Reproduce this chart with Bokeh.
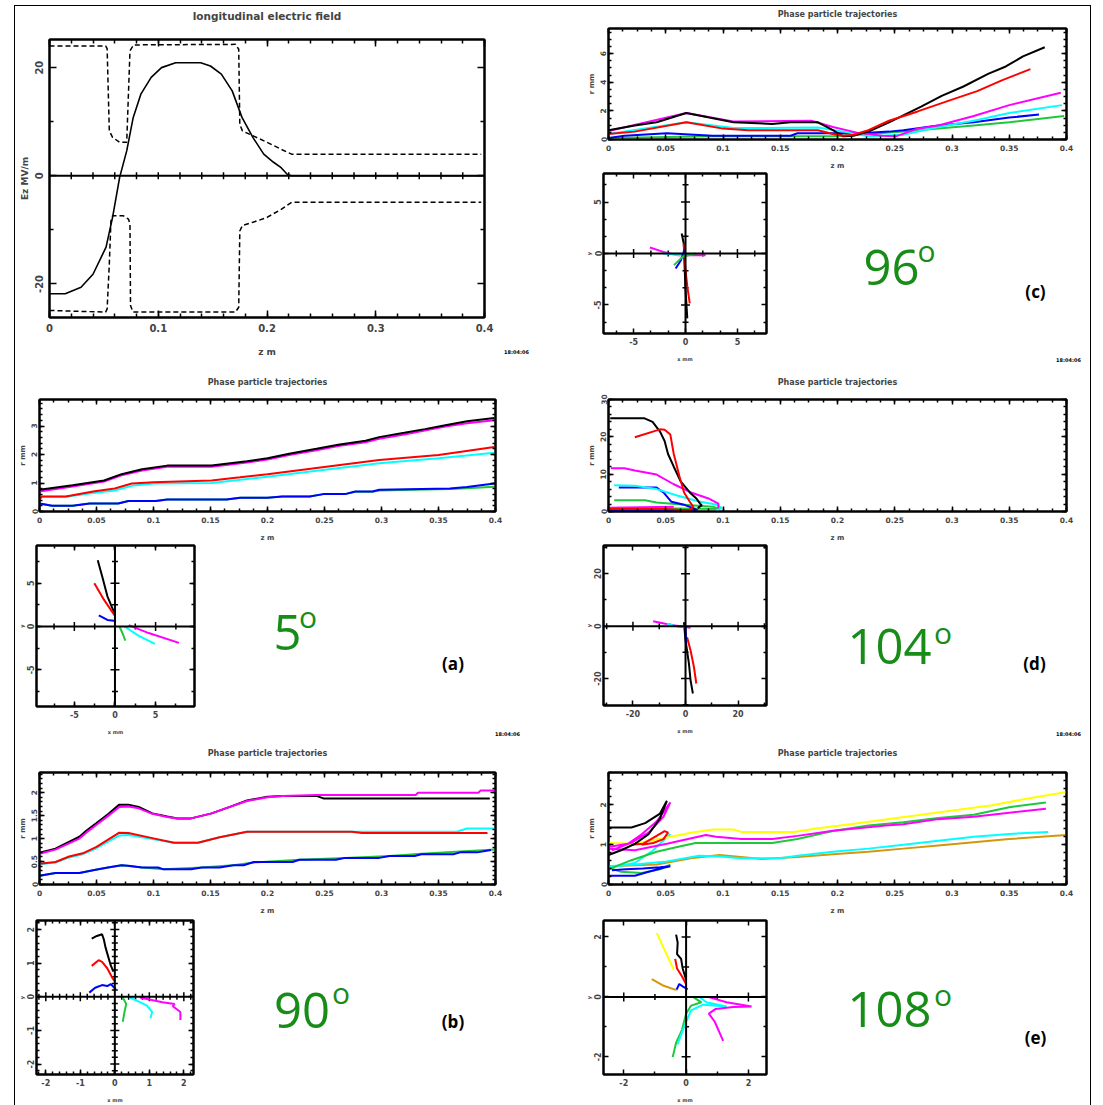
import math
from bokeh.plotting import figure
from bokeh.models import (Range1d, LinearAxis, FixedTicker, CustomJSTickFormatter,
                          Label, Span, Spacer)
from bokeh.layouts import column, row
from bokeh.embed import file_html
from bokeh.resources import INLINE

# ---------------- data ----------------
# longitudinal electric field
ez_z = [0, 0.0145, 0.029, 0.040, 0.052, 0.058, 0.0645, 0.071, 0.077, 0.084, 0.0935, 0.103, 0.116,
        0.139, 0.148, 0.158, 0.168, 0.177, 0.187, 0.197, 0.206, 0.213, 0.219, 0.2226, 0.398]
ez_v = [-21.8, -21.8, -20.6, -18.2, -13.2, -7.7, -0.3, 4.6, 10.8, 15.1, 18.2, 20.0, 20.9,
        20.9, 20.3, 18.8, 15.7, 10.8, 7.1, 4.0, 2.5, 1.5, 0.2, 0.0, 0.0]
env_up_z = [0, 0.0516, 0.053, 0.055, 0.058, 0.0645, 0.071, 0.074, 0.0774, 0.171, 0.174, 0.175,
            0.1774, 0.187, 0.200, 0.213, 0.2226, 0.397]
env_up_v = [24.0, 24.0, 23.5, 8.3, 7.1, 6.2, 6.2, 23.1, 24.2, 24.3, 23.4, 9.5,
            8.3, 7.4, 6.2, 4.9, 4.0, 4.0]
env_lo_z = [0, 0.0516, 0.053, 0.055, 0.0565, 0.058, 0.068, 0.0726, 0.074, 0.0745, 0.0768, 0.171,
            0.174, 0.175, 0.1774, 0.187, 0.200, 0.213, 0.2226, 0.397]
env_lo_v = [-24.9, -25.2, -24.6, -16.3, -8.3, -7.4, -7.4, -8.0, -8.9, -24.0, -25.2, -25.2,
            -24.3, -10.2, -9.2, -8.6, -7.7, -6.2, -4.9, -4.9]

# (c) 96 deg
c_black_z = [0, 0.023, 0.042, 0.068, 0.088, 0.109, 0.143, 0.159, 0.183, 0.196, 0.205, 0.214, 0.227,
             0.245, 0.273, 0.291, 0.31, 0.3315, 0.347, 0.362, 0.381]
c_black_r = [0.65, 0.98, 1.2, 1.85, 1.53, 1.2, 1.09, 1.2, 1.2, 0.65, 0.22, 0.26, 0.55,
             1.2, 2.3, 3.05, 3.7, 4.58, 5.1, 5.8, 6.44]
c_red_z = [0, 0.023, 0.068, 0.1, 0.122, 0.183, 0.196, 0.205, 0.214, 0.227, 0.245, 0.27, 0.298,
           0.322, 0.344, 0.3685]
c_red_r = [0.39, 0.55, 1.2, 0.76, 0.65, 0.65, 0.39, 0.26, 0.33, 0.65, 1.31, 1.96, 2.73,
           3.38, 4.15, 4.91]
c_mag_z = [0, 0.068, 0.109, 0.177, 0.196, 0.217, 0.239, 0.251, 0.27, 0.288, 0.319, 0.35, 0.395]
c_mag_r = [0.6, 1.85, 1.25, 1.31, 0.87, 0.48, 0.26, 0.22, 0.76, 0.98, 1.64, 2.4, 3.27]
c_cyan_z = [0, 0.068, 0.109, 0.183, 0.205, 0.227, 0.2575, 0.288, 0.319, 0.35, 0.396]
c_cyan_r = [0.39, 1.2, 0.8, 0.83, 0.55, 0.22, 0.33, 0.87, 1.31, 1.85, 2.4]
c_blue_z = [0, 0.014, 0.051, 0.091, 0.159, 0.165, 0.22, 0.245, 0.2575, 0.288, 0.319, 0.35, 0.376]
c_blue_r = [0.11, 0.26, 0.44, 0.26, 0.26, 0.44, 0.44, 0.55, 0.65, 0.98, 1.2, 1.53, 1.75]
c_green_z = [0, 0.091, 0.196, 0.227, 0.2575, 0.288, 0.319, 0.35, 0.398]
c_green_r = [0.11, 0.22, 0.22, 0.39, 0.55, 0.76, 0.98, 1.2, 1.64]
cs_black_x = [-0.37, -0.17, -0.1, 0.0, 0.17]
cs_black_y = [1.94, 0.97, -0.97, -3.5, -6.3]
cs_red_x = [-0.17, -0.03, 0.17, 0.41]
cs_red_y = [0.97, -1.29, -3.2, -4.84]
cs_mag_x = [-3.43, -2.14, -0.78, 1.94]
cs_mag_y = [0.58, 0.16, -0.16, -0.16]
cs_cyan_x = [-2.14, -0.44, 0.92]
cs_cyan_y = [0.0, -0.16, -0.06]
cs_blue_x = [-0.95, -0.44, -0.1]
cs_blue_y = [-1.45, -0.65, 0.39]
cs_green_x = [-1.12, -0.27, 0.92]
cs_green_y = [-1.13, -0.32, 0.0]

# (a) 5 deg
a_black_z = [0, 0.029, 0.0566, 0.072, 0.09, 0.112, 0.151, 0.182, 0.2, 0.219, 0.243, 0.262, 0.286,
             0.298, 0.32, 0.338, 0.356, 0.375, 0.399]
a_black_r = [0.76, 0.92, 1.09, 1.31, 1.48, 1.61, 1.61, 1.76, 1.87, 2.03, 2.2, 2.34, 2.48,
             2.61, 2.76, 2.89, 3.03, 3.17, 3.28]
a_mag_z = [0, 0.029, 0.0566, 0.072, 0.09, 0.112, 0.151, 0.182, 0.2, 0.219, 0.243, 0.262, 0.286,
           0.298, 0.32, 0.338, 0.356, 0.375, 0.399]
a_mag_r = [0.70, 0.88, 1.05, 1.27, 1.44, 1.57, 1.57, 1.72, 1.82, 1.98, 2.15, 2.30, 2.43,
           2.55, 2.70, 2.84, 2.98, 3.10, 3.20]
a_red_z = [0, 0.002, 0.023, 0.047, 0.066, 0.081, 0.1, 0.151, 0.176, 0.2, 0.243, 0.298, 0.35, 0.399]
a_red_r = [0.42, 0.53, 0.53, 0.7, 0.81, 0.98, 1.03, 1.09, 1.2, 1.31, 1.53, 1.81, 1.98, 2.26]
a_cyan_z = [0, 0.002, 0.023, 0.047, 0.066, 0.081, 0.1, 0.151, 0.2, 0.243, 0.298, 0.35, 0.399]
a_cyan_r = [0.42, 0.52, 0.52, 0.65, 0.74, 0.9, 0.98, 1.0, 1.22, 1.43, 1.69, 1.87, 2.06]
a_blue_z = [0, 0.011, 0.029, 0.044, 0.069, 0.078, 0.102, 0.112, 0.164, 0.176, 0.2, 0.213, 0.237,
            0.249, 0.268, 0.277, 0.292, 0.298, 0.36, 0.375, 0.399]
a_blue_r = [0.28, 0.2, 0.2, 0.28, 0.28, 0.37, 0.37, 0.42, 0.42, 0.48, 0.48, 0.53, 0.53,
            0.61, 0.61, 0.7, 0.7, 0.76, 0.81, 0.86, 0.98]
a_green_z = [0, 0.011, 0.029, 0.044, 0.069, 0.078, 0.102, 0.112, 0.164, 0.176, 0.2, 0.213, 0.237,
             0.249, 0.268, 0.277, 0.292, 0.298, 0.36, 0.375, 0.399]
a_green_r = [0.28, 0.2, 0.2, 0.28, 0.28, 0.37, 0.37, 0.42, 0.42, 0.48, 0.48, 0.53, 0.53,
             0.61, 0.61, 0.69, 0.69, 0.74, 0.79, 0.82, 0.87]
as_black_x = [-2.12, -1.57, -0.93, 0.0]
as_black_y = [7.65, 5.76, 3.48, 1.4]
as_red_x = [-2.54, -1.36, 0.0]
as_red_y = [5.0, 3.1, 1.21]
as_blue_x = [-1.99, -0.93, 0.13]
as_blue_y = [1.29, 0.76, 0.64]
as_green_x = [0.55, 0.97, 1.27]
as_green_y = [0.0, -0.87, -1.63]
as_cyan_x = [1.19, 2.88, 4.92]
as_cyan_y = [0.0, -1.06, -2.0]
as_mag_x = [1.69, 4.15, 7.88]
as_mag_y = [0.15, -0.76, -1.89]

# (d) 104 deg
d_black_z = [0.0015, 0.031, 0.0385, 0.045, 0.049, 0.052, 0.057, 0.063, 0.071, 0.077, 0.080, 0.0815, 0.078]
d_black_r = [25.0, 25.0, 24.0, 21.4, 18.9, 15.4, 12.0, 8.1, 5.1, 3.4, 2.1, 1.7, 0.9]
d_red_z = [0.023, 0.045, 0.049, 0.054, 0.057, 0.062, 0.066, 0.071, 0.074, 0.069]
d_red_r = [19.9, 22.0, 21.9, 20.6, 15.4, 9.4, 5.1, 2.6, 1.3, 0.0]
d_mag_z = [0.002, 0.014, 0.023, 0.042, 0.057, 0.072, 0.088, 0.096, 0.096]
d_mag_r = [11.6, 11.6, 11.0, 9.9, 7.3, 5.1, 3.4, 2.1, 0.9]
d_cyan_z = [0.005, 0.023, 0.042, 0.060, 0.079, 0.094, 0.099, 0.094]
d_cyan_r = [7.0, 6.9, 6.0, 4.3, 2.7, 1.9, 0.9, 0.3]
d_blue_z = [0.009, 0.042, 0.048, 0.055, 0.065, 0.074, 0.078]
d_blue_r = [6.4, 6.4, 5.1, 2.6, 1.9, 0.9, 0.3]
d_green_z = [0.005, 0.032, 0.042, 0.072, 0.091, 0.097]
d_green_r = [3.0, 3.0, 2.4, 1.7, 1.3, 0.7]
d_low_red_z = [0.0, 0.051, 0.072]
d_low_red_r = [0.7, 0.7, 0.2]
d_low_mag_z = [0.0, 0.057]
d_low_mag_r = [1.0, 1.3]
d_low_blue_z = [0.0, 0.076]
d_low_blue_r = [0.35, 0.35]
d_low_green_z = [0.0, 0.042, 0.097]
d_low_green_r = [0.5, 0.85, 0.7]
ds_black_x = [-0.6, 0.0, 1.3, 1.9, 2.8]
ds_black_y = [1.5, -5.4, -14.3, -20.6, -25.7]
ds_red_x = [0.6, 1.9, 3.2, 4.1]
ds_red_y = [-4.2, -9.2, -15.6, -21.9]
ds_blue_x = [0.0, 0.26]
ds_blue_y = [0.0, -6.7]
ds_mag_x = [-12.3, -7.7, -3.9, 1.9]
ds_mag_y = [1.9, 0.9, 0.25, -0.6]
ds_cyan_x = [-7.1, -3.9, -1.3]
ds_cyan_y = [0.9, 0.1, -0.1]
ds_green_x = [-3.2, 0.0]
ds_green_y = [-0.1, -0.1]

# (b) 90 deg
b_black_z = [0, 0.014, 0.035, 0.041, 0.05, 0.06, 0.07, 0.078, 0.087, 0.099, 0.112, 0.121, 0.133,
             0.151, 0.167, 0.182, 0.2, 0.213, 0.243, 0.249, 0.395]
b_black_r = [0.69, 0.78, 1.04, 1.17, 1.34, 1.53, 1.74, 1.74, 1.69, 1.55, 1.48, 1.44, 1.44,
             1.55, 1.69, 1.83, 1.91, 1.93, 1.93, 1.875, 1.875]
b_mag_z = [0, 0.014, 0.035, 0.041, 0.05, 0.06, 0.07, 0.078, 0.087, 0.099, 0.112, 0.121, 0.133,
           0.151, 0.167, 0.182, 0.2, 0.213, 0.243, 0.25, 0.33, 0.332, 0.385, 0.387, 0.4]
b_mag_r = [0.67, 0.76, 1.0, 1.13, 1.3, 1.49, 1.69, 1.7, 1.66, 1.54, 1.47, 1.44, 1.44,
           1.55, 1.69, 1.82, 1.9, 1.93, 1.95, 1.95, 1.95, 2.0, 2.0, 2.05, 2.05]
b_red_z = [0, 0.014, 0.026, 0.038, 0.05, 0.07, 0.078, 0.099, 0.118, 0.139, 0.158, 0.182, 0.274,
           0.283, 0.393]
b_red_r = [0.45, 0.49, 0.61, 0.68, 0.82, 1.13, 1.12, 1.01, 0.91, 0.91, 1.03, 1.15, 1.15,
           1.12, 1.12]
b_cyan_z = [0, 0.014, 0.026, 0.038, 0.05, 0.07, 0.078, 0.099, 0.118, 0.139, 0.158, 0.182, 0.366,
            0.375, 0.4]
b_cyan_r = [0.44, 0.48, 0.59, 0.66, 0.79, 1.07, 1.08, 0.99, 0.91, 0.91, 1.03, 1.15, 1.15,
            1.22, 1.22]
b_blue_z = [0, 0.014, 0.035, 0.047, 0.06, 0.072, 0.078, 0.09, 0.104, 0.109, 0.133, 0.142, 0.158,
            0.17, 0.179, 0.188, 0.222, 0.228, 0.26, 0.268, 0.298, 0.307, 0.329, 0.335, 0.363,
            0.369, 0.384, 0.396]
b_blue_r = [0.19, 0.25, 0.25, 0.31, 0.37, 0.42, 0.41, 0.37, 0.37, 0.33, 0.33, 0.37, 0.37,
            0.42, 0.42, 0.49, 0.49, 0.54, 0.54, 0.58, 0.58, 0.62, 0.62, 0.66, 0.66,
            0.7, 0.7, 0.75]
b_green_z = [0, 0.014, 0.035, 0.047, 0.06, 0.072, 0.09, 0.109, 0.142, 0.17, 0.188, 0.228, 0.268,
             0.307, 0.335, 0.369, 0.4]
b_green_r = [0.19, 0.25, 0.25, 0.31, 0.37, 0.42, 0.37, 0.33, 0.37, 0.42, 0.48, 0.54, 0.58,
             0.62, 0.67, 0.72, 0.76]
bs_black_x = [-0.67, -0.52, -0.37, -0.32, -0.27, -0.12, -0.04]
bs_black_y = [1.73, 1.81, 1.86, 1.71, 1.47, 0.94, 0.75]
bs_red_x = [-0.67, -0.47, -0.37, -0.22, -0.07, 0.0]
bs_red_y = [0.92, 1.09, 1.04, 0.85, 0.56, 0.46]
bs_blue_x = [-0.74, -0.57, -0.37, -0.22, -0.12, 0.03]
bs_blue_y = [0.125, 0.27, 0.35, 0.32, 0.38, 0.22]
bs_green_x = [0.23, 0.33, 0.28, 0.23]
bs_green_y = [-0.02, -0.21, -0.45, -0.74]
bs_cyan_x = [0.43, 0.73, 0.93, 1.08, 1.03]
bs_cyan_y = [-0.02, -0.16, -0.26, -0.45, -0.64]
bs_mag_x = [0.73, 1.38, 1.73, 1.68, 1.9, 1.9]
bs_mag_y = [-0.02, -0.16, -0.21, -0.28, -0.45, -0.69]

# (e) 108 deg
e_black_z = [0, 0.011, 0.023, 0.035, 0.045, 0.051, 0.045, 0.032, 0.02, 0]
e_black_r = [0.74, 0.86, 1.02, 1.26, 1.66, 2.1, 1.78, 1.54, 1.43, 1.43]
e_mag1_z = [0, 0.017, 0.029, 0.042, 0.054, 0.048, 0.035, 0.02, 0.003]
e_mag1_r = [0.94, 1.02, 1.26, 1.58, 2.06, 1.7, 1.3, 1.05, 0.86]
e_mag2_z = [0, 0.023, 0.051, 0.085, 0.094, 0.116, 0.143, 0.165, 0.196, 0.242, 0.2575, 0.288,
            0.319, 0.35, 0.382]
e_mag2_r = [0.9, 0.86, 1.02, 1.24, 1.2, 1.14, 1.14, 1.22, 1.35, 1.48, 1.51, 1.64,
            1.7, 1.8, 1.9]
e_red_z = [0.02, 0.03, 0.042, 0.049, 0.052, 0.048, 0.039, 0.029]
e_red_r = [1.0, 1.02, 1.22, 1.34, 1.3, 1.14, 1.04, 1.0]
e_cyan1_z = [0, 0.023, 0.039, 0.054]
e_cyan1_r = [0.42, 0.54, 0.86, 1.27]
e_cyan2_z = [0, 0.023, 0.051, 0.079, 0.097, 0.116, 0.15, 0.165, 0.196, 0.227, 0.2575, 0.288,
             0.319, 0.35, 0.384]
e_cyan2_r = [0.46, 0.5, 0.58, 0.72, 0.7, 0.66, 0.66, 0.72, 0.82, 0.9, 1.0, 1.1,
             1.2, 1.27, 1.32]
e_yellow_z = [0, 0.023, 0.051, 0.072, 0.091, 0.109, 0.116, 0.162, 0.18, 0.211, 0.242, 0.273,
              0.304, 0.335, 0.365, 0.4]
e_yellow_r = [1.04, 1.02, 1.18, 1.3, 1.38, 1.38, 1.32, 1.32, 1.4, 1.51, 1.63, 1.75,
              1.87, 1.99, 2.15, 2.32]
e_green1_z = [0, 0.02, 0.042, 0.06, 0.076, 0.097, 0.143, 0.165, 0.196, 0.227, 0.2575, 0.288,
              0.319, 0.35, 0.382]
e_green1_r = [0.38, 0.61, 0.82, 0.94, 1.04, 1.04, 1.04, 1.14, 1.34, 1.48, 1.56, 1.67,
              1.75, 1.94, 2.06]
e_green2_z = [0, 0.011, 0.029, 0.045, 0.054]
e_green2_r = [0.42, 0.32, 0.29, 0.38, 0.5]
e_orange_z = [0, 0.042, 0.072, 0.097, 0.134, 0.165, 0.196, 0.227, 0.2575, 0.288, 0.319, 0.35, 0.4]
e_orange_r = [0.46, 0.5, 0.66, 0.74, 0.64, 0.69, 0.76, 0.82, 0.9, 0.98, 1.06, 1.14, 1.24]
e_blue_z = [0, 0.023, 0.035, 0.048, 0.054, 0.045, 0.03, 0.015, 0.003]
e_blue_r = [0.22, 0.22, 0.32, 0.42, 0.46, 0.43, 0.4, 0.38, 0.36]
es_yellow_x = [-0.94, -0.65, -0.4]
es_yellow_y = [2.13, 1.48, 0.92]
es_black_x = [-0.32, -0.27, -0.29, -0.16, -0.11, 0.0]
es_black_y = [2.08, 1.81, 1.43, 1.27, 0.95, 0.57]
es_red_x = [-0.35, -0.29, -0.13, 0.0]
es_red_y = [1.27, 0.95, 0.68, 0.43]
es_orange_x = [-1.1, -0.76, -0.38, -0.27]
es_orange_y = [0.59, 0.39, 0.25, 0.25]
es_blue_x = [-0.3, -0.22, -0.11, 0.05]
es_blue_y = [0.25, 0.43, 0.35, 0.25]
es_green_x = [0.22, 0.49, 0.16, 0.0, -0.13, -0.32, -0.43]
es_green_y = [0.0, -0.18, -0.29, -0.56, -1.1, -1.53, -2.01]
es_cyan_x = [0.43, 0.65, 1.3, 0.55, 0.16, 0.0, -0.16, -0.27]
es_cyan_y = [0.0, -0.18, -0.32, -0.26, -0.45, -0.83, -1.26, -1.58]
es_mag_x = [0.7, 1.3, 2.1, 1.51, 0.95, 0.73, 0.92, 1.19]
es_mag_y = [0.0, -0.18, -0.32, -0.34, -0.4, -0.56, -0.83, -1.47]

# texts
EFIELD_TITLE = "longitudinal electric field"
TRAJ_TITLE = "Phase particle trajectories"
STAMP = "18:04:06"
ANGLES = {"a": "5", "b": "90", "c": "96", "d": "104", "e": "108"}

# ---------------- styling ----------------
BLACK = "#000000"
RED = "#ff0000"
MAG = "#ff00ff"
CYAN = "#00ffff"
BLUE = "#0000ff"
GREEN = "#1ec83c"
YELLOW = "#ffff00"
ORANGE = "#d4960a"
TXTGREEN = "#178c17"
TFONT = "DejaVu Sans"
FMT = "return (Math.round(tick*10000)/10000).toString();"


def frange(a, b, step):
    n = int(round((b - a) / step))
    return [round(a + i * step, 6) for i in range(n + 1)]


def make_fig(w, h, left, right, top, bottom, xr, yr):
    p = figure(width=w, height=h, x_range=Range1d(*xr), y_range=Range1d(*yr),
               output_backend="svg", toolbar_location=None,
               min_border_left=left, min_border_right=right,
               min_border_top=top, min_border_bottom=bottom)
    p.frame_align = False
    p.xgrid.visible = False
    p.ygrid.visible = False
    p.outline_line_color = "black"
    p.outline_line_width = 2
    p.background_fill_color = "white"
    p.border_fill_color = "white"
    return p


def setup_axes(p, xt, xm, yt, ym, font, maj, mnr, xl, yl, xst, yst, xlst, ylst, lfont,
               title=None, title_size="7px", title_standoff=10):
    def common(ax, t, m):
        ax.ticker = FixedTicker(ticks=t, minor_ticks=m)
        ax.axis_line_width = 2
        ax.major_tick_in = maj
        ax.major_tick_out = 0
        ax.minor_tick_in = mnr
        ax.minor_tick_out = 0
        ax.major_tick_line_width = 1.5
        ax.minor_tick_line_width = 1.5

    def hide(ax):
        ax.formatter = CustomJSTickFormatter(code="return '';")
        ax.major_label_text_font_size = "0px"
        ax.major_label_standoff = 0

    xa = p.xaxis[0]
    ya = p.yaxis[0]
    common(xa, xt, xm)
    common(ya, yt, ym)
    for ax, st in ((xa, xst), (ya, yst)):
        ax.formatter = CustomJSTickFormatter(code=FMT)
        ax.major_label_text_font = TFONT
        ax.major_label_text_font_style = "bold"
        ax.major_label_text_font_size = font
        ax.major_label_standoff = int(st)
        ax.axis_label_text_font = TFONT
        ax.axis_label_text_font_style = "bold"
        ax.axis_label_text_font_size = lfont
    ya.major_label_orientation = "vertical"
    xa.axis_label = xl
    ya.axis_label = yl
    xa.axis_label_standoff = int(xlst)
    ya.axis_label_standoff = int(ylst)
    top = LinearAxis()
    common(top, xt, xm)
    hide(top)
    if title:
        top.axis_label = title
        top.axis_label_text_font = TFONT
        top.axis_label_text_font_style = "bold"
        top.axis_label_text_font_size = title_size
        top.axis_label_standoff = int(round(title_standoff))
    p.add_layout(top, "above")
    right = LinearAxis()
    common(right, yt, ym)
    hide(right)
    p.add_layout(right, "right")


def text_fig(w, h, x0, y0, items):
    """Blank canvas for free texts; items given in page pixels."""
    p = figure(width=w, height=h, x_range=Range1d(0, w), y_range=Range1d(0, h),
               output_backend="svg", toolbar_location=None, min_border=0,
               x_axis_location=None, y_axis_location=None)
    p.frame_align = False
    p.xgrid.visible = False
    p.ygrid.visible = False
    p.outline_line_color = None
    for px, py, text, size, font, style, color, align, baseline in items:
        p.add_layout(Label(x=px - x0, y=y0 + h - py, text=text, text_font=font,
                           text_font_style=style, text_font_size=size, text_color=color,
                           text_align=align, text_baseline=baseline))
    return p


def angle_items(key, num_xy, o_xy, tag_xy, stamp_xy=None):
    items = [
        (num_xy[0], num_xy[1], ANGLES[key], "49px", "Open Sans", "normal", TXTGREEN, "left", "alphabetic"),
        (o_xy[0], o_xy[1], "o", "30px", "Open Sans", "normal", TXTGREEN, "left", "alphabetic"),
        (tag_xy[0], tag_xy[1], "(%s)" % key, "17px", "Open Sans", "bold", BLACK, "center", "middle"),
    ]
    if stamp_xy:
        items.append((stamp_xy[0], stamp_xy[1], STAMP, "5px", TFONT, "bold", BLACK, "center", "middle"))
    return items


# ---------------- E field panel ----------------
pe = make_fig(479, 359, 34, 10, 32, 48, (0, 0.4), (-26.2, 25.2))
setup_axes(pe, frange(0, 0.4, 0.1), frange(0, 0.4, 0.02), [-20, 0, 20], [-10, 10],
           "10px", 7, 4, "z m", "Ez MV/m", 6, 6, 12, 3, "9px",
           title=EFIELD_TITLE, title_size="10.5px", title_standoff=18)
pe.add_layout(Span(location=0, dimension="width", line_color="black", line_width=2))
ez_ticks = frange(0.02, 0.38, 0.02)
pe.scatter(ez_ticks, [0] * len(ez_ticks), marker="dash", angle=math.pi / 2, size=7,
           line_color="black", line_width=1.5)
pe.line(ez_z, ez_v, line_color="black", line_width=1.6)
pe.line(env_up_z, env_up_v, line_color="black", line_width=1.5, line_dash="5 3")
pe.line(env_lo_z, env_lo_v, line_color="black", line_width=1.5, line_dash="5 3")
pe_txt = text_fig(56, 359, 494, 6,
                  [(516, 351, STAMP, "5px", TFONT, "bold", BLACK, "center", "middle")])


# ---------------- trajectory panels ----------------
def traj_panel(w, h, left, right, top, bottom, ymax, yt, ym, series, title_standoff):
    p = make_fig(w, h, left, right, top, bottom, (0, 0.4), (0, ymax))
    setup_axes(p, frange(0, 0.4, 0.05), frange(0, 0.4, 0.0125), yt, ym,
               "7.5px", 5, 3, "z m", "r mm", 5, 2, 8, 2, "7px",
               title=TRAJ_TITLE, title_size="8px", title_standoff=title_standoff)
    for zs, rs, col in series:
        p.line(zs, rs, line_color=col, line_width=2)
    return p


def scat_panel(w, h, left, right, top, bottom, xr, yr, ticks, minor, series):
    p = make_fig(w, h, left, right, top, bottom, xr, yr)
    setup_axes(p, ticks, minor, ticks, minor, "8px", 5, 3, "x mm", "y", 4, 2, 8, 0, "5px")
    p.add_layout(Span(location=0, dimension="width", line_color="black", line_width=2))
    p.add_layout(Span(location=0, dimension="height", line_color="black", line_width=2))
    tk = [t for t in ticks if t != 0]
    mk = [t for t in minor if t not in ticks]
    p.scatter(tk, [0] * len(tk), marker="dash", angle=math.pi / 2, size=9, line_color="black", line_width=1.5)
    p.scatter(mk, [0] * len(mk), marker="dash", angle=math.pi / 2, size=6, line_color="black", line_width=1.5)
    p.scatter([0] * len(tk), tk, marker="dash", size=9, line_color="black", line_width=1.5)
    p.scatter([0] * len(mk), mk, marker="dash", size=6, line_color="black", line_width=1.5)
    for xs, ys, col in series:
        p.line(xs, ys, line_color=col, line_width=2)
    return p


pa = traj_panel(535, 179, 22, 55, 34, 26, 3.93, [0, 1, 2, 3], frange(0, 3.8, 0.2),
                [(a_green_z, a_green_r, GREEN), (a_blue_z, a_blue_r, BLUE),
                 (a_cyan_z, a_cyan_r, CYAN), (a_red_z, a_red_r, RED),
                 (a_mag_z, a_mag_r, MAG), (a_black_z, a_black_r, BLACK)], 13)
psa = scat_panel(183, 193, 18, 4, 1, 29, (-9.66, 9.79), (-9.24, 9.35), [-5, 0, 5],
                 frange(-7.5, 7.5, 2.5),
                 [(as_black_x, as_black_y, BLACK), (as_red_x, as_red_y, RED),
                  (as_blue_x, as_blue_y, BLUE), (as_green_x, as_green_y, GREEN),
                  (as_cyan_x, as_cyan_y, CYAN), (as_mag_x, as_mag_y, MAG)])
ta = text_fig(352, 193, 198, 544, angle_items("a", (273, 631.7), (298.5, 616), (452.5, 663), (507, 733)))
pb = traj_panel(535, 180, 22, 55, 35, 28, 2.44, [0, 0.5, 1, 1.5, 2], frange(0, 2.4, 0.1),
                [(b_green_z, b_green_r, GREEN), (b_blue_z, b_blue_r, BLUE),
                 (b_cyan_z, b_cyan_r, CYAN), (b_red_z, b_red_r, RED),
                 (b_black_z, b_black_r, BLACK), (b_mag_z, b_mag_r, MAG)], 15)
psb = scat_panel(182, 188, 18, 4, 3, 25, (-2.27, 2.28), (-2.31, 2.27), [-2, -1, 0, 1, 2],
                 frange(-2.2, 2.2, 0.2),
                 [(bs_black_x, bs_black_y, BLACK), (bs_red_x, bs_red_y, RED),
                  (bs_blue_x, bs_blue_y, BLUE), (bs_green_x, bs_green_y, GREEN),
                  (bs_cyan_x, bs_cyan_y, CYAN), (bs_mag_x, bs_mag_y, MAG)])
tb = text_fig(353, 188, 197, 917, angle_items("b", (273.5, 1010), (331.5, 991.7), (452.5, 1021)))

pc = traj_panel(540, 166, 58, 24, 19, 29, 7.75, [0, 2, 4, 6], frange(0, 7.5, 0.5),
                [(c_green_z, c_green_r, GREEN), (c_blue_z, c_blue_r, BLUE),
                 (c_cyan_z, c_cyan_r, CYAN), (c_mag_z, c_mag_r, MAG),
                 (c_black_z, c_black_r, BLACK), (c_red_z, c_red_r, RED)], 10)
psc = scat_panel(220, 193, 53, 4, 1, 32, (-7.9, 7.8), (-7.77, 7.77), [-5, 0, 5],
                 [-20 / 3, -10 / 3, -5 / 3, 5 / 3, 10 / 3, 20 / 3],
                 [(cs_black_x, cs_black_y, BLACK), (cs_red_x, cs_red_y, RED),
                  (cs_mag_x, cs_mag_y, MAG), (cs_cyan_x, cs_cyan_y, CYAN),
                  (cs_blue_x, cs_blue_y, BLUE), (cs_green_x, cs_green_y, GREEN)])
tc = text_fig(320, 193, 770, 172, angle_items("c", (863, 266.7), (917, 250), (1035, 291), (1068, 359)))
pd = traj_panel(540, 179, 58, 24, 34, 27, 30.0, [0, 10, 20, 30], frange(0, 30, 2),
                [(d_low_green_z, d_low_green_r, GREEN), (d_low_blue_z, d_low_blue_r, BLUE),
                 (d_low_mag_z, d_low_mag_r, MAG), (d_low_red_z, d_low_red_r, RED),
                 (d_green_z, d_green_r, GREEN), (d_blue_z, d_blue_r, BLUE),
                 (d_cyan_z, d_cyan_r, CYAN), (d_mag_z, d_mag_r, MAG),
                 (d_black_z, d_black_r, BLACK), (d_red_z, d_red_r, RED)], 13)
psd = scat_panel(220, 193, 53, 4, 1, 32, (-31.2, 30.8), (-30.3, 30.8), [-20, 0, 20],
                 [-30, -10, 10, 30],
                 [(ds_black_x, ds_black_y, BLACK), (ds_red_x, ds_red_y, RED),
                  (ds_mag_x, ds_mag_y, MAG), (ds_cyan_x, ds_cyan_y, CYAN),
                  (ds_green_x, ds_green_y, GREEN), (ds_blue_x, ds_blue_y, BLUE)])
td = text_fig(320, 193, 770, 544, angle_items("d", (847, 646), (933.5, 632), (1034, 663.3), (1068, 733)))
pe2 = traj_panel(540, 180, 58, 24, 35, 28, 2.81, [0, 1, 2], frange(0, 2.8, 0.2),
                 [(e_orange_z, e_orange_r, ORANGE), (e_cyan2_z, e_cyan2_r, CYAN),
                  (e_green2_z, e_green2_r, GREEN), (e_blue_z, e_blue_r, BLUE),
                  (e_cyan1_z, e_cyan1_r, CYAN), (e_green1_z, e_green1_r, GREEN),
                  (e_mag2_z, e_mag2_r, MAG), (e_yellow_z, e_yellow_r, YELLOW),
                  (e_red_z, e_red_r, RED), (e_mag1_z, e_mag1_r, MAG),
                  (e_black_z, e_black_r, BLACK)], 15)
pse = scat_panel(220, 188, 53, 4, 3, 25, (-2.65, 2.58), (-2.59, 2.55), [-2, 0, 2],
                 [-1, 1],
                 [(es_yellow_x, es_yellow_y, YELLOW), (es_black_x, es_black_y, BLACK),
                  (es_red_x, es_red_y, RED), (es_orange_x, es_orange_y, ORANGE),
                  (es_blue_x, es_blue_y, BLUE), (es_green_x, es_green_y, GREEN),
                  (es_cyan_x, es_cyan_y, CYAN), (es_mag_x, es_mag_y, MAG)])
te = text_fig(320, 188, 770, 917, angle_items("e", (847, 1009.3), (933.5, 993.7), (1035, 1036.7)))

# ---------------- layout ----------------
left_col = column(row(pe, pe_txt), pa, row(psa, ta), pb, row(psb, tb))
right_col = column(pc, row(psc, tc), pd, row(psd, td), pe2, row(pse, te))


def vline(h):
    return Spacer(width=1, height=h, styles={"background-color": "black"})


top_line = row(Spacer(width=14, height=1), Spacer(width=1077, height=1, styles={"background-color": "black"}))
main = row(Spacer(width=14, height=1099), vline(1099), left_col, right_col, vline(1099))
root = column(Spacer(width=1103, height=5), top_line, main)

open("out.html", "w").write(file_html(root, INLINE))
